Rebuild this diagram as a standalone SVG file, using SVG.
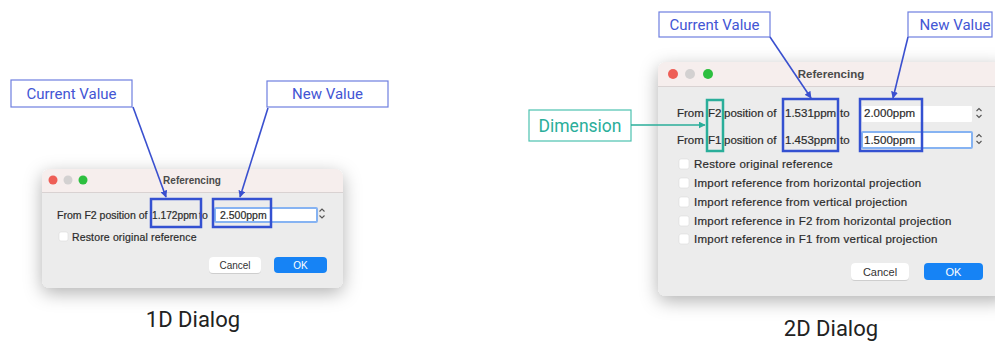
<svg xmlns="http://www.w3.org/2000/svg" width="995" height="341" viewBox="0 0 995 341">
<defs>
<filter id="shadow" x="-20%" y="-20%" width="140%" height="150%">
<feDropShadow dx="0" dy="5" stdDeviation="9" flood-color="#000" flood-opacity="0.3"/>
</filter>
<filter id="btnsh" x="-20%" y="-30%" width="140%" height="170%">
<feDropShadow dx="0" dy="0.5" stdDeviation="0.6" flood-color="#000" flood-opacity="0.25"/>
</filter>
<marker id="ab" viewBox="0 0 10 10" refX="9" refY="5" markerWidth="7" markerHeight="7" orient="auto" markerUnits="userSpaceOnUse">
<path d="M0,0 L10,5 L0,10 z" fill="#3a50cf"/>
</marker>
<marker id="at" viewBox="0 0 10 10" refX="9" refY="5" markerWidth="7" markerHeight="7" orient="auto" markerUnits="userSpaceOnUse">
<path d="M0,0 L10,5 L0,10 z" fill="#2aae9a"/>
</marker>
<style>
.lbl{fill:#fff;stroke:#6e7fe0;stroke-width:1.2}
.lbltxt{font-family:Roboto,"Liberation Sans",sans-serif;font-size:15px;fill:#4356d4;text-anchor:middle}
.dim{fill:#fff;stroke:#4cc2b0;stroke-width:1.2}
.dimtxt{font-family:Roboto,"Liberation Sans",sans-serif;font-size:17.5px;fill:#2aae9a;text-anchor:middle}
.hl{fill:none;stroke:#3451d1;stroke-width:2.5}
.hlt{fill:none;stroke:#2aae9a;stroke-width:2.5}
.conn{stroke:#3a50cf;stroke-width:1.6;fill:none}
.connt{stroke:#2aae9a;stroke-width:1.6;fill:none}
.dlg{fill:#ececec}
.tbar{fill:#f6eeed}
.div{stroke:#d9d2d2;stroke-width:1}
.ttl{font-family:"Liberation Sans",Arial,sans-serif;font-weight:bold;fill:#4a4a4a;text-anchor:middle}
.t{font-family:"Liberation Sans",Arial,sans-serif;fill:#2b2b2b;stroke:#2b2b2b;stroke-width:0.2}
.cb{fill:#fff;stroke:#dcdcdc;stroke-width:0.6}
.field{fill:#fff}
.focus{fill:#fff;stroke:#86b3f2;stroke-width:2}
.cancel{fill:#fff}
.ok{fill:#1683f5}
.btxt{font-family:"Liberation Sans",Arial,sans-serif;text-anchor:middle}
.step{fill:none;stroke:#555;stroke-width:1.1}
.cap{font-family:Roboto,"Liberation Sans",sans-serif;font-size:22px;fill:#222;text-anchor:middle}
</style>
</defs>
<rect width="995" height="341" fill="#fff"/>

<!-- 1D dialog -->
<g id="dialog-1d">
<rect x="42" y="169" width="301" height="119" rx="8" class="dlg" filter="url(#shadow)"/>
<path d="M50,169 H335 A8,8 0 0 1 343,177 V192 H42 V177 A8,8 0 0 1 50,169 Z" class="tbar"/>
<line x1="42" y1="192.5" x2="343" y2="192.5" class="div"/>
<circle cx="53" cy="180" r="4.5" fill="#ee5e56"/>
<circle cx="68" cy="180" r="4.5" fill="#d3d1d1"/>
<circle cx="83" cy="180" r="4.5" fill="#2dbf3f"/>
<text x="192" y="184" class="ttl" font-size="10">Referencing</text>
<rect x="215" y="208" width="102" height="14" rx="1" class="focus"/>
<text x="57" y="219" class="t" font-size="10.5">From F2 position of</text>
<text x="152" y="219" class="t" font-size="10.2">1.172ppm</text>
<text x="199" y="219" class="t" font-size="10.5">to</text>
<text x="220" y="219" class="t" font-size="10.5">2.500ppm</text>
<path d="M319.5,211.5 L322,209 L324.5,211.5 M319.5,215.5 L322,218 L324.5,215.5" class="step"/>
<rect x="59" y="232" width="9" height="9" rx="2" class="cb"/>
<text x="72" y="241" class="t" font-size="10.5" letter-spacing="0.15">Restore original reference</text>
<rect x="209" y="257" width="52" height="16" rx="4" class="cancel" filter="url(#btnsh)"/>
<text x="235" y="268.5" class="btxt" font-size="10" fill="#333">Cancel</text>
<rect x="274" y="257" width="53" height="16" rx="4" class="ok"/>
<text x="300.5" y="268.5" class="btxt" font-size="10" fill="#fff">OK</text>
<rect x="151" y="199" width="50" height="28" class="hl"/>
<rect x="213" y="199" width="58" height="28" class="hl"/>
</g>

<!-- 2D dialog -->
<g id="dialog-2d">
<rect x="658" y="62" width="350" height="234" rx="8" class="dlg" filter="url(#shadow)"/>
<path d="M666,62 H1008 V86 H658 V70 A8,8 0 0 1 666,62 Z" class="tbar"/>
<line x1="658" y1="86.5" x2="995" y2="86.5" class="div"/>
<circle cx="673" cy="74" r="5" fill="#ee5e56"/>
<circle cx="690" cy="74" r="5" fill="#d3d1d1"/>
<circle cx="708" cy="74" r="5" fill="#2dbf3f"/>
<text x="831" y="78" class="ttl" font-size="11.5">Referencing</text>
<rect x="862" y="106" width="110" height="16" rx="1" class="field"/>
<rect x="862" y="132" width="110" height="16" rx="1" class="focus"/>
<text x="677" y="117" class="t" font-size="11.5">From</text>
<text x="708" y="117" class="t" font-size="11.5">F2</text>
<text x="724" y="117" class="t" font-size="11.5">position of</text>
<text x="785" y="117" class="t" font-size="11.5">1.531ppm</text>
<text x="840" y="117" class="t" font-size="11.5">to</text>
<text x="864" y="117" class="t" font-size="11.5">2.000ppm</text>
<text x="677" y="144" class="t" font-size="11.5">From</text>
<text x="708" y="144" class="t" font-size="11.5">F1</text>
<text x="724" y="144" class="t" font-size="11.5">position of</text>
<text x="785" y="144" class="t" font-size="11.5">1.453ppm</text>
<text x="840" y="144" class="t" font-size="11.5">to</text>
<text x="864" y="144" class="t" font-size="11.5">1.500ppm</text>
<path d="M976.5,111 L979,108.5 L981.5,111 M976.5,115 L979,117.5 L981.5,115" class="step"/>
<path d="M976.5,137 L979,134.5 L981.5,137 M976.5,141 L979,143.5 L981.5,141" class="step"/>
<rect x="679" y="159" width="10" height="10" rx="2" class="cb"/>
<text x="694" y="168" class="t" font-size="11.5" letter-spacing="0.25">Restore original reference</text>
<rect x="679" y="178" width="10" height="10" rx="2" class="cb"/>
<text x="694" y="187" class="t" font-size="11.5" letter-spacing="0.25">Import reference from horizontal projection</text>
<rect x="679" y="197" width="10" height="10" rx="2" class="cb"/>
<text x="694" y="206" class="t" font-size="11.5" letter-spacing="0.25">Import reference from vertical projection</text>
<rect x="679" y="216" width="10" height="10" rx="2" class="cb"/>
<text x="694" y="225" class="t" font-size="11.5" letter-spacing="0.25">Import reference in F2 from horizontal projection</text>
<rect x="679" y="234" width="10" height="10" rx="2" class="cb"/>
<text x="694" y="243" class="t" font-size="11.5" letter-spacing="0.25">Import reference in F1 from vertical projection</text>
<rect x="851" y="263" width="58" height="17" rx="4" class="cancel" filter="url(#btnsh)"/>
<text x="880" y="275.5" class="btxt" font-size="11" fill="#333">Cancel</text>
<rect x="924" y="263" width="59" height="17" rx="4" class="ok"/>
<text x="953.5" y="275.5" class="btxt" font-size="11" fill="#fff">OK</text>
<rect x="707" y="100" width="16" height="51" class="hlt"/>
<rect x="783" y="99" width="55" height="52" class="hl"/>
<rect x="860" y="99" width="62" height="52" class="hl"/>
</g>

<!-- label nodes -->
<g id="label-current-1d">
<rect x="11" y="80" width="121" height="27" class="lbl"/>
<text x="71.5" y="99" class="lbltxt">Current Value</text>
</g>
<g id="label-new-1d">
<rect x="267" y="81" width="121" height="26" class="lbl"/>
<text x="327.5" y="99" class="lbltxt">New Value</text>
</g>
<g id="label-current-2d">
<rect x="659" y="12" width="111" height="25" class="lbl"/>
<text x="714.5" y="30" class="lbltxt">Current Value</text>
</g>
<g id="label-new-2d">
<rect x="908" y="12" width="84" height="25" class="lbl"/>
<text x="955" y="30" class="lbltxt">New Value</text>
</g>
<g id="label-dimension">
<rect x="529" y="110" width="102" height="31" class="dim"/>
<text x="580" y="131.5" class="dimtxt">Dimension</text>
</g>

<!-- connectors -->
<g id="connectors">
<line x1="133" y1="107" x2="166" y2="197" class="conn" marker-end="url(#ab)"/>
<line x1="268" y1="108" x2="240" y2="197" class="conn" marker-end="url(#ab)"/>
<line x1="770" y1="37" x2="811" y2="98" class="conn" marker-end="url(#ab)"/>
<line x1="908" y1="37" x2="893" y2="98" class="conn" marker-end="url(#ab)"/>
<line x1="631" y1="125" x2="705" y2="125" class="connt" marker-end="url(#at)"/>
</g>

<!-- captions -->
<text id="caption-1d" x="193" y="327" class="cap">1D Dialog</text>
<text id="caption-2d" x="831" y="336" class="cap">2D Dialog</text>
</svg>
